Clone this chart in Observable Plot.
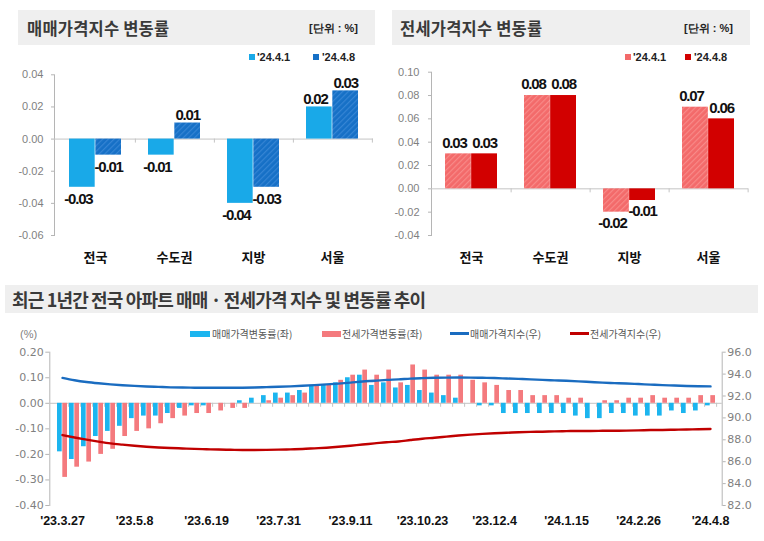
<!DOCTYPE html>
<html><head><meta charset="utf-8">
<script src="https://cdn.jsdelivr.net/npm/d3@7"></script>
<script src="https://cdn.jsdelivr.net/npm/@observablehq/plot@0.6"></script>
<style>
html,body{margin:0;padding:0;background:#fff;}
#page{position:relative;width:764px;height:541px;overflow:hidden;font-family:"Noto Sans CJK KR","Noto Sans",sans-serif;}
.abs{position:absolute;white-space:nowrap;}
.box{position:absolute;background:#efefef;}
.title{font-weight:700;color:#3a3a3a;font-size:16.5px;letter-spacing:0.2px;}
.title2{font-weight:700;color:#3a3a3a;font-size:18px;letter-spacing:-0.85px;}
.unit{font-family:"Liberation Sans",Arial,sans-serif;font-weight:700;font-size:11px;color:#222;}
.lg2{font-size:10px;color:#555;}
.pct{font-family:"Liberation Sans",Arial,sans-serif;font-size:11px;color:#7f7f7f;}
</style></head>
<body><div id="page">
<svg width="0" height="0" style="position:absolute"><defs>
 <pattern id="hatchBlue" width="4" height="4" patternUnits="userSpaceOnUse" patternTransform="rotate(45)">
  <rect width="4" height="4" fill="#1670c6"/><rect width="1.2" height="4" fill="#3585d4"/>
 </pattern>
 <pattern id="hatchPink" width="4" height="4" patternUnits="userSpaceOnUse" patternTransform="rotate(45)">
  <rect width="4" height="4" fill="#f36a6a"/><rect width="1.2" height="4" fill="#f88a88"/>
 </pattern>
</defs></svg>
</div>
<script>
// ---- data: top panels ----
const regions = ["전국", "수도권", "지방", "서울"];
const periods = ["'24.4.1", "'24.4.8"];
const saleRate0401 = [-0.03, -0.01, -0.04, 0.02];
const saleRate0408 = [-0.01, 0.01, -0.03, 0.03];
const jeonseRate0401 = [0.03, 0.08, -0.02, 0.07];
const jeonseRate0408 = [0.03, 0.08, -0.01, 0.06];
const saleTicks = [-0.06, -0.04, -0.02, 0, 0.02, 0.04];
const jeonseTicks = [-0.04, -0.02, 0, 0.02, 0.04, 0.06, 0.08, 0.10];

// ---- data: bottom panel (weekly) ----
const weeks = ["2023-03-27","2023-04-03","2023-04-10","2023-04-17","2023-04-24","2023-05-01","2023-05-08","2023-05-15","2023-05-22","2023-05-29",
 "2023-06-05","2023-06-12","2023-06-19","2023-06-26","2023-07-03","2023-07-10","2023-07-17","2023-07-24","2023-07-31","2023-08-07",
 "2023-08-14","2023-08-21","2023-08-28","2023-09-04","2023-09-11","2023-09-18","2023-09-25","2023-10-02","2023-10-09","2023-10-16",
 "2023-10-23","2023-10-30","2023-11-06","2023-11-13","2023-11-20","2023-11-27","2023-12-04","2023-12-11","2023-12-18","2023-12-25",
 "2024-01-01","2024-01-08","2024-01-15","2024-01-22","2024-01-29","2024-02-05","2024-02-12","2024-02-19","2024-02-26","2024-03-04",
 "2024-03-11","2024-03-18","2024-03-25","2024-04-01","2024-04-08"];
const saleChange = [-0.19,-0.22,-0.17,-0.13,-0.11,-0.09,-0.06,-0.05,-0.05,-0.04,
 -0.02,-0.01,-0.01,0.00,0.00,0.01,0.02,0.03,0.04,0.04,
 0.05,0.07,0.07,0.08,0.10,0.11,0.07,0.08,0.06,0.07,
 0.05,0.04,0.03,0.02,0.00,-0.01,-0.01,-0.04,-0.04,-0.04,
 -0.04,-0.04,-0.04,-0.05,-0.06,-0.06,-0.04,-0.04,-0.05,-0.05,
 -0.05,-0.03,-0.04,-0.03,-0.01];
const jeonseChange = [-0.29,-0.25,-0.23,-0.20,-0.18,-0.13,-0.11,-0.10,-0.08,-0.06,
 -0.05,-0.04,-0.04,-0.03,-0.02,-0.02,0.00,0.01,0.02,0.03,
 0.04,0.07,0.07,0.09,0.11,0.13,0.11,0.13,0.08,0.15,
 0.13,0.11,0.11,0.11,0.09,0.08,0.07,0.05,0.05,0.03,
 0.03,0.03,0.02,0.02,0.00,0.01,0.01,0.02,0.02,0.03,
 0.02,0.02,0.02,0.03,0.03];
const saleIndex = [93.65,93.44,93.28,93.16,93.06,92.98,92.92,92.87,92.83,92.79,
 92.77,92.76,92.75,92.75,92.75,92.76,92.78,92.81,92.84,92.88,
 92.93,92.99,93.06,93.13,93.22,93.33,93.39,93.47,93.52,93.59,
 93.63,93.66,93.68,93.69,93.68,93.66,93.64,93.60,93.56,93.52,
 93.47,93.43,93.39,93.34,93.28,93.22,93.18,93.14,93.09,93.04,
 92.99,92.96,92.92,92.89,92.88];
const jeonseIndex = [88.43,88.21,88.01,87.83,87.67,87.56,87.46,87.37,87.30,87.25,
 87.21,87.17,87.14,87.11,87.09,87.07,87.07,87.08,87.10,87.13,
 87.16,87.22,87.28,87.36,87.46,87.57,87.67,87.78,87.85,87.98,
 88.10,88.19,88.29,88.39,88.47,88.54,88.60,88.64,88.69,88.72,
 88.74,88.77,88.79,88.81,88.81,88.82,88.83,88.84,88.86,88.89,
 88.90,88.92,88.94,88.97,88.99];
const xTicks = ["2023-03-27","2023-05-08","2023-06-19","2023-07-31","2023-09-11","2023-10-23","2023-12-04","2024-01-15","2024-02-26","2024-04-08"];
const xTickLabels = ["'23.3.27","'23.5.8","'23.6.19","'23.7.31","'23.9.11","'23.10.23","'23.12.4","'24.1.15","'24.2.26","'24.4.8"];
const leftTicks = [-0.4, -0.3, -0.2, -0.1, 0, 0.1, 0.2];
const rightTicks = [82, 84, 86, 88, 90, 92, 94, 96];

// ---- helpers ----
const page = document.getElementById("page");
const fontLatin = '"Liberation Sans", Arial, sans-serif';
const fontKo = '"Noto Sans CJK KR", sans-serif';
const fontAxis2 = '"DejaVu Sans", sans-serif';

function place(node, left, top) {
  const d = document.createElement("div");
  d.className = "abs"; d.style.left = left + "px"; d.style.top = top + "px";
  d.appendChild(node); page.appendChild(d); return d;
}
function box(l, t, w, h, bg) {
  const d = document.createElement("div");
  d.className = "box";
  Object.assign(d.style, {left: l + "px", top: t + "px", width: w + "px", height: h + "px"});
  if (bg) d.style.background = bg;
  page.appendChild(d); return d;
}
function label(text, left, cy, cls, h = 18, right) {
  const d = document.createElement("div");
  d.className = "abs " + cls; d.textContent = text;
  if (right !== undefined) d.style.right = right + "px"; else d.style.left = left + "px";
  d.style.top = (cy - h / 2) + "px"; d.style.height = h + "px"; d.style.lineHeight = h + "px";
  page.appendChild(d); return d;
}

// ---- top panels ----
function grouped(cfg) {
  const {left, top, width, height, mL, mR, mT, mB, yDomain, yTicks, valsA, valsB, fillA, fillB, tickSize, tickPadding, dyPos, dyNeg} = cfg;
  const n = regions.length, pi = 0.34, po = 0.17;
  const step = (width - mL - mR) / (n - pi + 2 * po);
  const bw = step * (1 - pi);
  const rowsA = regions.map((r, i) => ({region: r, value: valsA[i]}));
  const rowsB = regions.map((r, i) => ({region: r, value: valsB[i]}));
  const tickLen = (yDomain[1] - yDomain[0]) * 4 / (height - mT - mB);
  const t = {x: "region", y: "value", text: d => d.value.toFixed(2), fontFamily: fontLatin, fontSize: 15, fontWeight: "bold", fill: "#111"};
  const svg = Plot.plot({
    width, height, marginLeft: mL, marginRight: mR, marginTop: mT, marginBottom: mB,
    style: {background: "transparent", overflow: "visible"},
    x: {domain: regions, paddingInner: pi, paddingOuter: po, axis: null},
    y: {domain: yDomain, axis: null},
    marks: [
      Plot.frame({anchor: "left", stroke: "#b5b5b5"}),
      Plot.axisY({ticks: yTicks, tickFormat: d => d.toFixed(2), tickSize, tickPadding, label: null, stroke: "#b5b5b5", fill: "#7f7f7f", fontSize: 11, fontFamily: fontLatin}),
      Plot.ruleY([0], {stroke: "#c4c4c4"}),
      Plot.ruleX(regions, {x: d => d, y1: 0, y2: -tickLen, dx: step / 2, stroke: "#c4c4c4"}),
      Plot.barY(rowsA, {x: "region", y: "value", fill: fillA, insetRight: bw / 2}),
      Plot.barY(rowsB, {x: "region", y: "value", fill: fillB, insetLeft: bw / 2}),
      Plot.text(rowsA.filter(d => d.value >= 0), {...t, dx: -bw / 4 - 4, dy: dyPos}),
      Plot.text(rowsA.filter(d => d.value < 0), {...t, dx: -bw / 4 - 4, dy: dyNeg}),
      Plot.text(rowsB.filter(d => d.value >= 0), {...t, dx: bw / 4, dy: dyPos}),
      Plot.text(rowsB.filter(d => d.value < 0), {...t, dx: bw / 4, dy: dyNeg}),
      Plot.axisX({tickSize: 0, tickPadding: 17, label: null, fontFamily: fontKo, fontSize: 13, fontWeight: "bold", fill: "#111"})
    ]
  });
  // condensed look for the value labels
  svg.querySelectorAll('g[aria-label="text"] text').forEach(el => el.setAttribute("letter-spacing", "-1.2"));
  place(svg, left, top);
}

// title boxes
box(18, 10, 357, 35);
label("매매가격지수 변동률", 27, 28, "title", 24);
label("[단위 : %]", 0, 28, "unit", 16, 764 - 358);
box(392, 10, 358, 35);
label("전세가격지수 변동률", 400, 28, "title", 24);
label("[단위 : %]", 0, 28, "unit", 16, 764 - 733);

// legends (top)
function sq(l, cy, color, w = 6, h = 6) { return box(l, cy - h / 2, w, h, color); }
sq(249, 56.5, "#19a9e8"); label(periods[0], 257, 56.5, "unit", 14);
sq(313, 56.5, "#1670c6"); label(periods[1], 322, 56.5, "unit", 14);
sq(625, 56.5, "#f36a6a"); label(periods[0], 633, 56.5, "unit", 14);
sq(685, 56.5, "#d20000"); label(periods[1], 694, 56.5, "unit", 14);

grouped({left: 0, top: 60, width: 380, height: 210, mL: 54, mR: 7, mT: 14.3, mB: 35,
  yDomain: [-0.06, 0.04], yTicks: saleTicks, valsA: saleRate0401, valsB: saleRate0408,
  fillA: "#19a9e8", fillB: "url(#hatchBlue)", tickSize: 3, tickPadding: 8, dyPos: -8, dyNeg: 12});
grouped({left: 380, top: 60, width: 384, height: 210, mL: 51, mR: 16, mT: 11.7, mB: 35,
  yDomain: [-0.04, 0.10], yTicks: jeonseTicks, valsA: jeonseRate0401, valsB: jeonseRate0408,
  fillA: "url(#hatchPink)", fillB: "#d20000", tickSize: 3, tickPadding: 9, dyPos: -11, dyNeg: 11});

// ---- bottom panel ----
box(5, 285, 753, 28);
label("최근 1년간 전국 아파트 매매 · 전세가격 지수 및 변동률 추이", 12, 299, "title2", 26);
label("(%)", 20, 333.5, "pct", 14);
box(190, 330.5, 20, 6, "#1cb5ef"); label("매매가격변동률(좌)", 212, 333.5, "lg2", 14);
box(322, 330.5, 19, 6, "#f47a7e"); label("전세가격변동률(좌)", 342, 333.5, "lg2", 14);
box(450, 332.3, 19, 2.5, "#1a6cc0"); label("매매가격지수(우)", 470, 333.5, "lg2", 14);
box(570, 332.3, 19, 2.5, "#c00000"); label("전세가격지수(우)", 590, 333.5, "lg2", 14);

const rows = weeks.map((w, i) => ({week: w, sale: saleChange[i], jeonse: jeonseChange[i], saleIdx: saleIndex[i], jeonseIdx: jeonseIndex[i]}));
const B = {width: 764, height: 200, mL: 49.3, mR: 42.3, mT: 11.7, mB: 35};
const bpi = 0.18, bpo = 0.09;
const bstep = (B.width - B.mL - B.mR) / (weeks.length - bpi + 2 * bpo);
const bbw = bstep * (1 - bpi);
const bTick = 0.6 * 4 / (B.height - B.mT - B.mB);
const xOpt = {domain: weeks, paddingInner: bpi, paddingOuter: bpo, axis: null};

const barsSvg = Plot.plot({
  width: B.width, height: B.height, marginLeft: B.mL, marginRight: B.mR, marginTop: B.mT, marginBottom: B.mB,
  style: {background: "transparent", overflow: "visible"},
  x: xOpt,
  y: {domain: [-0.4, 0.2], axis: null},
  marks: [
    Plot.frame({anchor: "left", stroke: "#b5b5b5"}),
    Plot.axisY({ticks: leftTicks, tickFormat: d => d.toFixed(2), tickSize: 4, tickPadding: 2, label: null, stroke: "#b5b5b5", fill: "#7f7f7f", fontSize: 11, fontFamily: fontAxis2}),
    Plot.ruleY([0], {stroke: "#c4c4c4"}),
    Plot.ruleX(weeks, {x: d => d, y1: 0, y2: -bTick, dx: bstep / 2, stroke: "#c4c4c4"}),
    Plot.barY(rows, {x: "week", y: "sale", fill: "#1cb5ef", insetRight: bbw / 2 + 0.3}),
    Plot.barY(rows, {x: "week", y: "jeonse", fill: "#f47a7e", insetLeft: bbw / 2 + 0.3}),
    Plot.axisX({ticks: xTicks, tickFormat: d => xTickLabels[xTicks.indexOf(d)], tickSize: 0, tickPadding: 11, label: null, fontFamily: fontLatin, fontSize: 12.5, fontWeight: "bold", fill: "#111"})
  ]
});
place(barsSvg, 0, 340);

const linesSvg = Plot.plot({
  width: B.width, height: B.height, marginLeft: B.mL, marginRight: B.mR, marginTop: B.mT, marginBottom: B.mB,
  style: {background: "transparent", overflow: "visible"},
  x: xOpt,
  y: {domain: [82, 96], axis: null},
  marks: [
    Plot.frame({anchor: "right", stroke: "#b5b5b5"}),
    Plot.axisY({anchor: "right", ticks: rightTicks, tickFormat: d => d.toFixed(1), tickSize: 3, tickPadding: 2, label: null, stroke: "#b5b5b5", fill: "#7f7f7f", fontSize: 11, fontFamily: fontAxis2}),
    Plot.line(rows, {x: "week", y: "saleIdx", stroke: "#1a6cc0", strokeWidth: 2.4, curve: "monotone-x"}),
    Plot.line(rows, {x: "week", y: "jeonseIdx", stroke: "#c00000", strokeWidth: 2.4, curve: "monotone-x"})
  ]
});
place(linesSvg, 0, 340);
</script>
</body></html>
